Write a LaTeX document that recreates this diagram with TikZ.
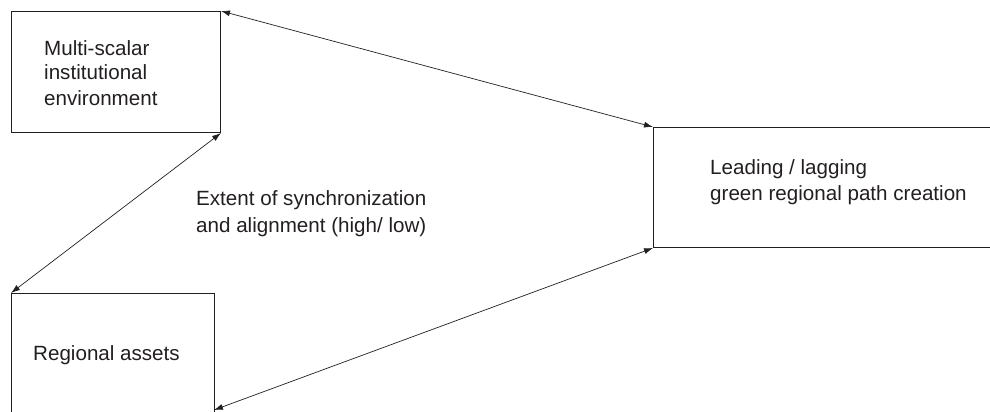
\documentclass[tikz,border=0pt]{standalone}
\usepackage{fontspec}
\setmainfont{Liberation Sans}
\usetikzlibrary{arrows.meta}
\definecolor{ink}{HTML}{231F20}
\tikzset{
  box/.style={draw=ink, line width=1pt, rectangle, inner sep=0pt, anchor=north west},
  lbl/.style={text=ink, align=left, inner sep=0pt, anchor=base west, font=\fontsize{20.6}{26}\selectfont},
  link/.style={draw=ink, line width=0.7pt, {Latex[length=9pt,width=6pt]}-{Latex[length=9pt,width=6pt]}}
}
\begin{document}
\begin{tikzpicture}[x=1pt,y=-1pt]
\useasboundingbox (0,0) rectangle (990,412);
\node[box, minimum width=209pt, minimum height=121pt] (inst) at (11,11) {};
\node[box, minimum width=203pt, minimum height=140pt] (assets) at (11,293) {};
\node[box, minimum width=360pt, minimum height=120pt] (lead) at (653,127) {};
\coordinate (assetsout) at (214,410);
\node[lbl, font=\fontsize{20.6}{25}\selectfont] (insttext) at (44,105) {Multi-scalar\\institutional\\environment};
\node[lbl] (assetstext) at (33,360) {Regional assets};
\node[lbl] (leadtext) at (710,200) {Leading / lagging\\green regional path creation};
\node[lbl, font=\fontsize{20.6}{27}\selectfont] (extent) at (196,232) {Extent of synchronization\\and alignment (high/ low)};
\draw[link] (inst.north east) -- (lead.north west);
\draw[link] (inst.south east) -- (assets.north west);
\draw[link] (assetsout) -- (lead.south west);
\end{tikzpicture}
\end{document}
